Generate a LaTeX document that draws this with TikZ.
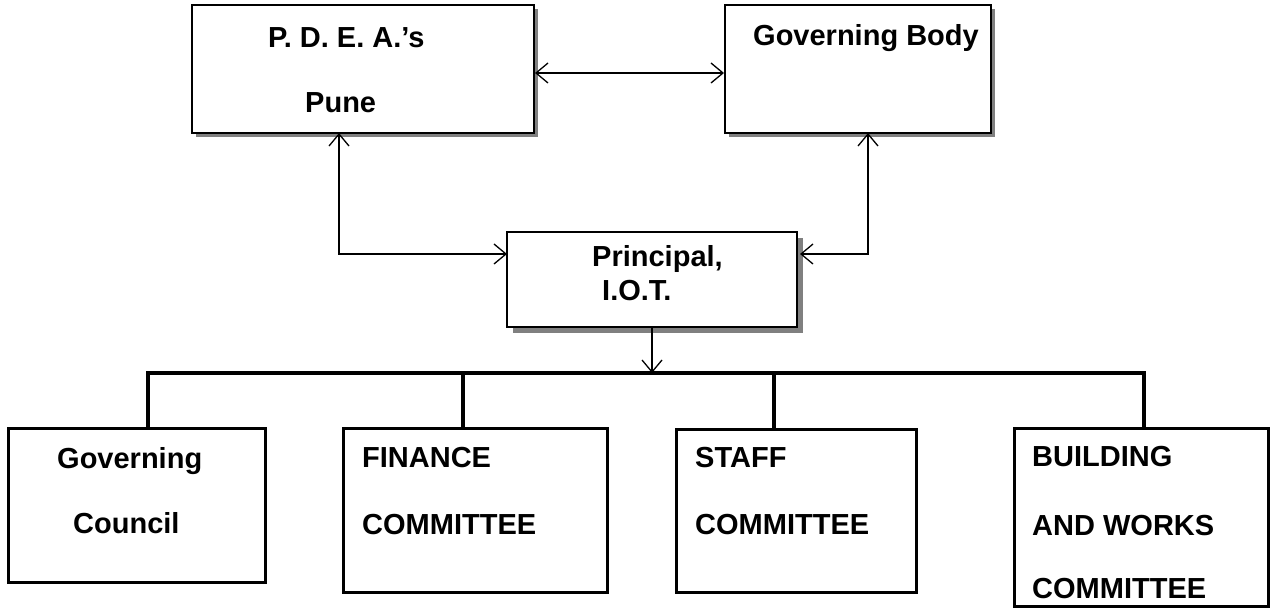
\documentclass[tikz,border=0pt]{standalone}
\usepackage{fontspec}
\setmainfont{Liberation Sans}
\usetikzlibrary{arrows.meta,backgrounds}
\begin{document}
\begin{tikzpicture}[x=1pt,y=-1pt,
  >={Straight Barb[length=12pt,width=20pt]},
  topbox/.style={draw=black, line width=2.7pt, fill=white, inner sep=0pt, outer sep=0pt, anchor=north west},
  midbox/.style={draw=black, line width=1.3pt, fill=white, inner sep=0pt, outer sep=0pt, anchor=north west},
  lowbox/.style={draw=black, line width=3pt, fill=white, inner sep=0pt, outer sep=0pt, anchor=north west},
  lbl/.style={anchor=base west, inner sep=0pt, font=\fontsize{29}{34}\selectfont\bfseries},
  conn/.style={draw=black, line width=1.3pt},
  bus/.style={draw=black, line width=3.3pt},
  shade/.style={fill=black!50}
]
\useasboundingbox (0,0) rectangle (1273,609);

% boxes
\node[topbox, minimum width=342pt, minimum height=128pt] (pdea) at (192,5) {};
\node[topbox, minimum width=266pt, minimum height=128pt] (gb) at (725,5) {};
\node[midbox, minimum width=290pt, minimum height=95pt] (prin) at (507,232) {};
\node[lowbox, minimum width=257pt, minimum height=154pt] (gc) at (8,428) {};
\node[lowbox, minimum width=264pt, minimum height=164pt] (fin) at (343,428) {};
\node[lowbox, minimum width=240pt, minimum height=163pt] (staff) at (676,429) {};
\node[lowbox, minimum width=254pt, minimum height=178pt] (bld) at (1014,428) {};

% shadows
\begin{scope}[on background layer]
  \fill[shade] ([shift={(4,4)}]pdea.north west) rectangle ([shift={(4,4)}]pdea.south east);
  \fill[shade] ([shift={(4,4)}]gb.north west) rectangle ([shift={(4,4)}]gb.south east);
  \fill[shade] ([shift={(6,6)}]prin.north west) rectangle ([shift={(6,6)}]prin.south east);
\end{scope}

% labels
\node[lbl] (t1) at (268,48) {P. D. E. A.’s};
\node[lbl] (t2) at (305,113) {Pune};
\node[lbl] (t3) at (753,46) {Governing Body};
\node[lbl] (t4) at (592,267) {Principal,};
\node[lbl] (t5) at (602,301) {I.O.T.};
\node[lbl] (t6) at (57,468) {Governing};
\node[lbl] (t7) at (73,533) {Council};
\node[lbl] (t8) at (362,467) {FINANCE};
\node[lbl] (t9) at (362,534) {COMMITTEE};
\node[lbl] (t10) at (695,467) {STAFF};
\node[lbl] (t11) at (695,534) {COMMITTEE};
\node[lbl] (t12) at (1032,466) {BUILDING};
\node[lbl] (t13) at (1032,535) {AND WORKS};
\node[lbl] (t14) at (1032,598) {COMMITTEE};

% connectors
\coordinate (lc) at (339,254);
\coordinate (rc) at (868,254);
\draw[conn,<->] ([shift={(1,4)}]pdea.east) -- ([shift={(-1,4)}]gb.west);
\draw[conn,<->] (pdea.south -| lc) -- (lc) -- (prin.west |- lc);
\draw[conn,<->] (gb.south -| rc) -- (rc) -- ([shift={(3,0)}]prin.east |- rc);

\coordinate (b1) at (148,373);
\coordinate (b2) at (463,373);
\coordinate (b3) at (774,373);
\coordinate (b4) at (1144,373);
\draw[conn,->] (prin.south) -- (prin.south |- b1);
\draw[bus] (gc.north -| b1) -- (b1) -- (b4) -- (bld.north -| b4);
\draw[bus] (b2) -- (fin.north -| b2);
\draw[bus] (b3) -- (staff.north -| b3);
\end{tikzpicture}
\end{document}
